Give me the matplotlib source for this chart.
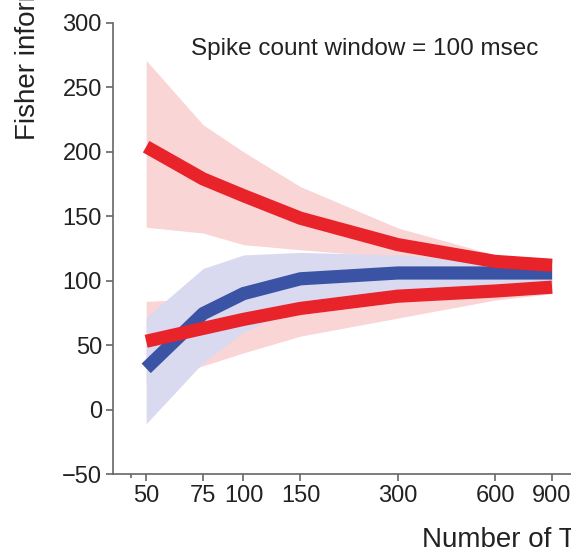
import matplotlib.pyplot as plt
from matplotlib.ticker import FixedLocator, NullFormatter, NullLocator

plt.rcParams['font.family'] = ['Liberation Sans', 'DejaVu Sans']

# --- datos ---
n_ensayos = [50, 75, 100, 150, 300, 600, 900]

rojo_alto = [204, 179, 166, 148.5, 128, 115, 112]
rojo_alto_sup = [271, 221, 200, 173, 141, 120, 115]
rojo_alto_inf = [141.5, 137, 128, 124, 118, 113, 110]

rojo_bajo = [53, 63, 70, 78.5, 88, 92, 95]
rojo_bajo_sup = [84, 86, 90, 96, 100, 101, 100]
rojo_bajo_inf = [20, 34, 44, 57, 71, 85, 90]

azul = [32, 74.5, 90, 101.5, 106, 106, 106]
azul_sup = [71.5, 109.5, 120, 122, 120, 114, 112]
azul_inf = [-11, 36.5, 60, 81, 91, 98, 100]

ticks_x = [50, 75, 100, 150, 300, 600, 900]
ticks_y = [-50, 0, 50, 100, 150, 200, 250, 300]

ROJO = '#E8232A'
AZUL = '#3A53A4'
ROSA = '#F9D5D6'
LAVANDA = '#D9DAEF'

fig = plt.figure(figsize=(5.71, 5.58), dpi=100)
ax = fig.add_axes([0.198, 0.1505, 0.802, 0.8083])

ax.fill_between(n_ensayos, rojo_alto_inf, rojo_alto_sup, color=ROSA, lw=0)
ax.fill_between(n_ensayos, rojo_bajo_inf, rojo_bajo_sup, color=ROSA, lw=0)
ax.fill_between(n_ensayos, azul_inf, azul_sup, color=LAVANDA, lw=0)

ax.plot(n_ensayos, azul, color=AZUL, lw=9.5, solid_capstyle='butt', solid_joinstyle='round')
ax.plot(n_ensayos, rojo_alto, color=ROJO, lw=9.5, solid_capstyle='butt', solid_joinstyle='round')
ax.plot(n_ensayos, rojo_bajo, color=ROJO, lw=9.5, solid_capstyle='butt', solid_joinstyle='round')

ax.set_xscale('log')
ax.set_xlim(39.5, 1030)
ax.set_ylim(-50, 300)
ax.xaxis.set_major_locator(FixedLocator(ticks_x))
ax.set_xticklabels([str(t) for t in ticks_x])
ax.xaxis.set_minor_locator(FixedLocator([45]))
ax.xaxis.set_minor_formatter(NullFormatter())
ax.set_yticks(ticks_y)
ax.set_yticklabels(['\u221250'] + [str(t) for t in ticks_y[1:]])
ax.yaxis.set_minor_locator(NullLocator())

for lado in ['top', 'right']:
    ax.spines[lado].set_visible(False)
for lado in ['left', 'bottom']:
    ax.spines[lado].set_color('#666666')
    ax.spines[lado].set_linewidth(1.2)
ax.tick_params(which='major', direction='out', length=5, width=1.2, color='#666666',
               labelsize=17, labelcolor='#222222', pad=3)
ax.tick_params(which='minor', direction='out', length=3, width=1.2, color='#666666')

ax.text(0.171, 0.943, 'Spike count window = 100 msec', transform=ax.transAxes,
        fontsize=17.5, color='#222222', ha='left', va='center')

fig.text(422 / 571, 1 - 540 / 558, 'Number of Trials', fontsize=20, color='#222222',
         ha='left', va='center')
fig.text(28 / 571, 1 - 140 / 558, 'Fisher information', fontsize=20, color='#222222',
         rotation=90, ha='center', va='bottom')

fig.savefig('out.png', dpi=100)
